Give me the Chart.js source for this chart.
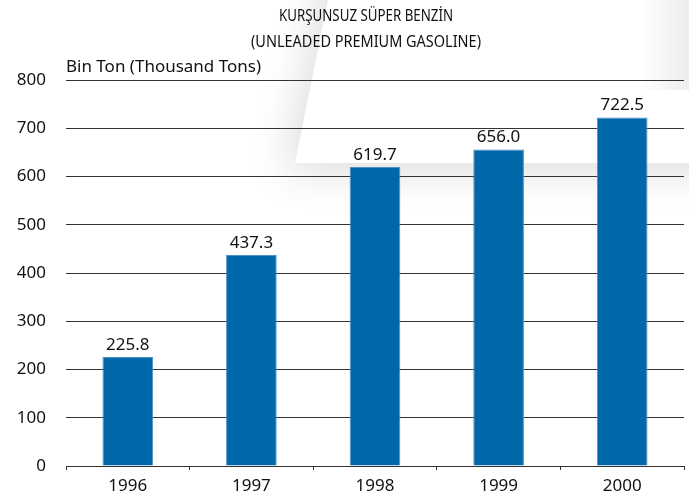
<!DOCTYPE html>
<html>
<head>
<meta charset="utf-8">
<script src="https://cdn.jsdelivr.net/npm/chart.js@4.4.1/dist/chart.umd.min.js"></script>
<style>
  html, body { margin: 0; padding: 0; background: #fff; }
  #wrap { width: 689px; height: 503px; }
</style>
</head>
<body>
<div id="wrap"><canvas id="benzin" width="689" height="503"></canvas></div>
<script>
var years = ['1996', '1997', '1998', '1999', '2000'];
var tons = [225.8, 437.3, 619.7, 656.0, 722.5];
var titleLines = ['KURŞUNSUZ SÜPER BENZİN', '(UNLEADED PREMIUM GASOLINE)'];
var unitLabel = 'Bin Ton (Thousand Tons)';

var FONT = '"Noto Sans", "Open Sans", sans-serif';

// soft grey swoosh behind the chart, like the printed page
var backdrop = {
    id: 'backdrop',
    beforeDraw: function(chart) {
        var ctx = chart.ctx;
        ctx.save();
        ctx.fillStyle = '#fff';
        ctx.fillRect(0, 0, chart.width, chart.height);

        ctx.shadowColor = 'rgba(0,0,0,0.13)';
        ctx.shadowBlur = 40;
        ctx.shadowOffsetX = -10;
        ctx.shadowOffsetY = 10;
        ctx.fillStyle = '#fff';
        ctx.beginPath();
        ctx.moveTo(340, -60);
        ctx.lineTo(780, -60);
        ctx.lineTo(780, 163);
        ctx.lineTo(295, 163);
        ctx.closePath();
        ctx.fill();
        ctx.restore();

        ctx.save();
        var g = ctx.createLinearGradient(640, 0, 689, 0);
        g.addColorStop(0, 'rgba(0,0,0,0)');
        g.addColorStop(1, 'rgba(0,0,0,0.07)');
        ctx.fillStyle = g;
        ctx.beginPath();
        ctx.moveTo(645, 0);
        ctx.lineTo(689, 0);
        ctx.lineTo(689, 90);
        ctx.lineTo(632, 90);
        ctx.closePath();
        ctx.fill();
        ctx.restore();
    }
};

var headings = {
    id: 'headings',
    afterDraw: function(chart) {
        var ctx = chart.ctx;
        ctx.save();
        ctx.fillStyle = '#111';
        ctx.textBaseline = 'middle';
        ctx.textAlign = 'center';
        ctx.font = '15.5px ' + FONT;
        ctx.fillText(titleLines[0], 366, 17, 174);
        ctx.fillText(titleLines[1], 366, 43, 230);
        ctx.textAlign = 'left';
        ctx.font = '17px ' + FONT;
        ctx.fillText(unitLabel, 66, 67, 203);
        ctx.restore();
    }
};

var valueLabels = {
    id: 'valueLabels',
    afterDatasetsDraw: function(chart) {
        var ctx = chart.ctx;
        var meta = chart.getDatasetMeta(0);
        ctx.save();
        ctx.fillStyle = '#111';
        ctx.font = '17px ' + FONT;
        ctx.textAlign = 'center';
        ctx.textBaseline = 'alphabetic';
        meta.data.forEach(function(bar, i) {
            ctx.fillText(tons[i].toFixed(1), bar.x, bar.y - 7);
        });
        ctx.restore();
    }
};

new Chart(document.getElementById('benzin'), {
    type: 'bar',
    data: {
        labels: years,
        datasets: [{
            data: tons,
            backgroundColor: '#0067a9',
            borderColor: '#4a93c8',
            borderWidth: 1,
            categoryPercentage: 0.41,
            barPercentage: 1
        }]
    },
    options: {
        responsive: false,
        animation: false,
        layout: { padding: { top: 80, right: 5, left: 0, bottom: 0 } },
        plugins: {
            legend: { display: false },
            tooltip: { enabled: false }
        },
        scales: {
            x: {
                grid: {
                    offset: true,
                    drawOnChartArea: false,
                    tickLength: 4,
                    color: '#333'
                },
                border: { display: false },
                ticks: {
                    color: '#111',
                    padding: 6,
                    font: { family: FONT, size: 17 }
                },
                afterFit: function(scale) { scale.height = 37; }
            },
            y: {
                min: 0,
                max: 800,
                ticks: {
                    stepSize: 100,
                    color: '#111',
                    padding: 20,
                    font: { family: FONT, size: 17 }
                },
                grid: { color: '#333', lineWidth: 1, drawTicks: false },
                border: { display: false },
                afterFit: function(scale) { scale.width = 66; }
            }
        }
    },
    plugins: [backdrop, headings, valueLabels]
});
</script>
</body>
</html>
